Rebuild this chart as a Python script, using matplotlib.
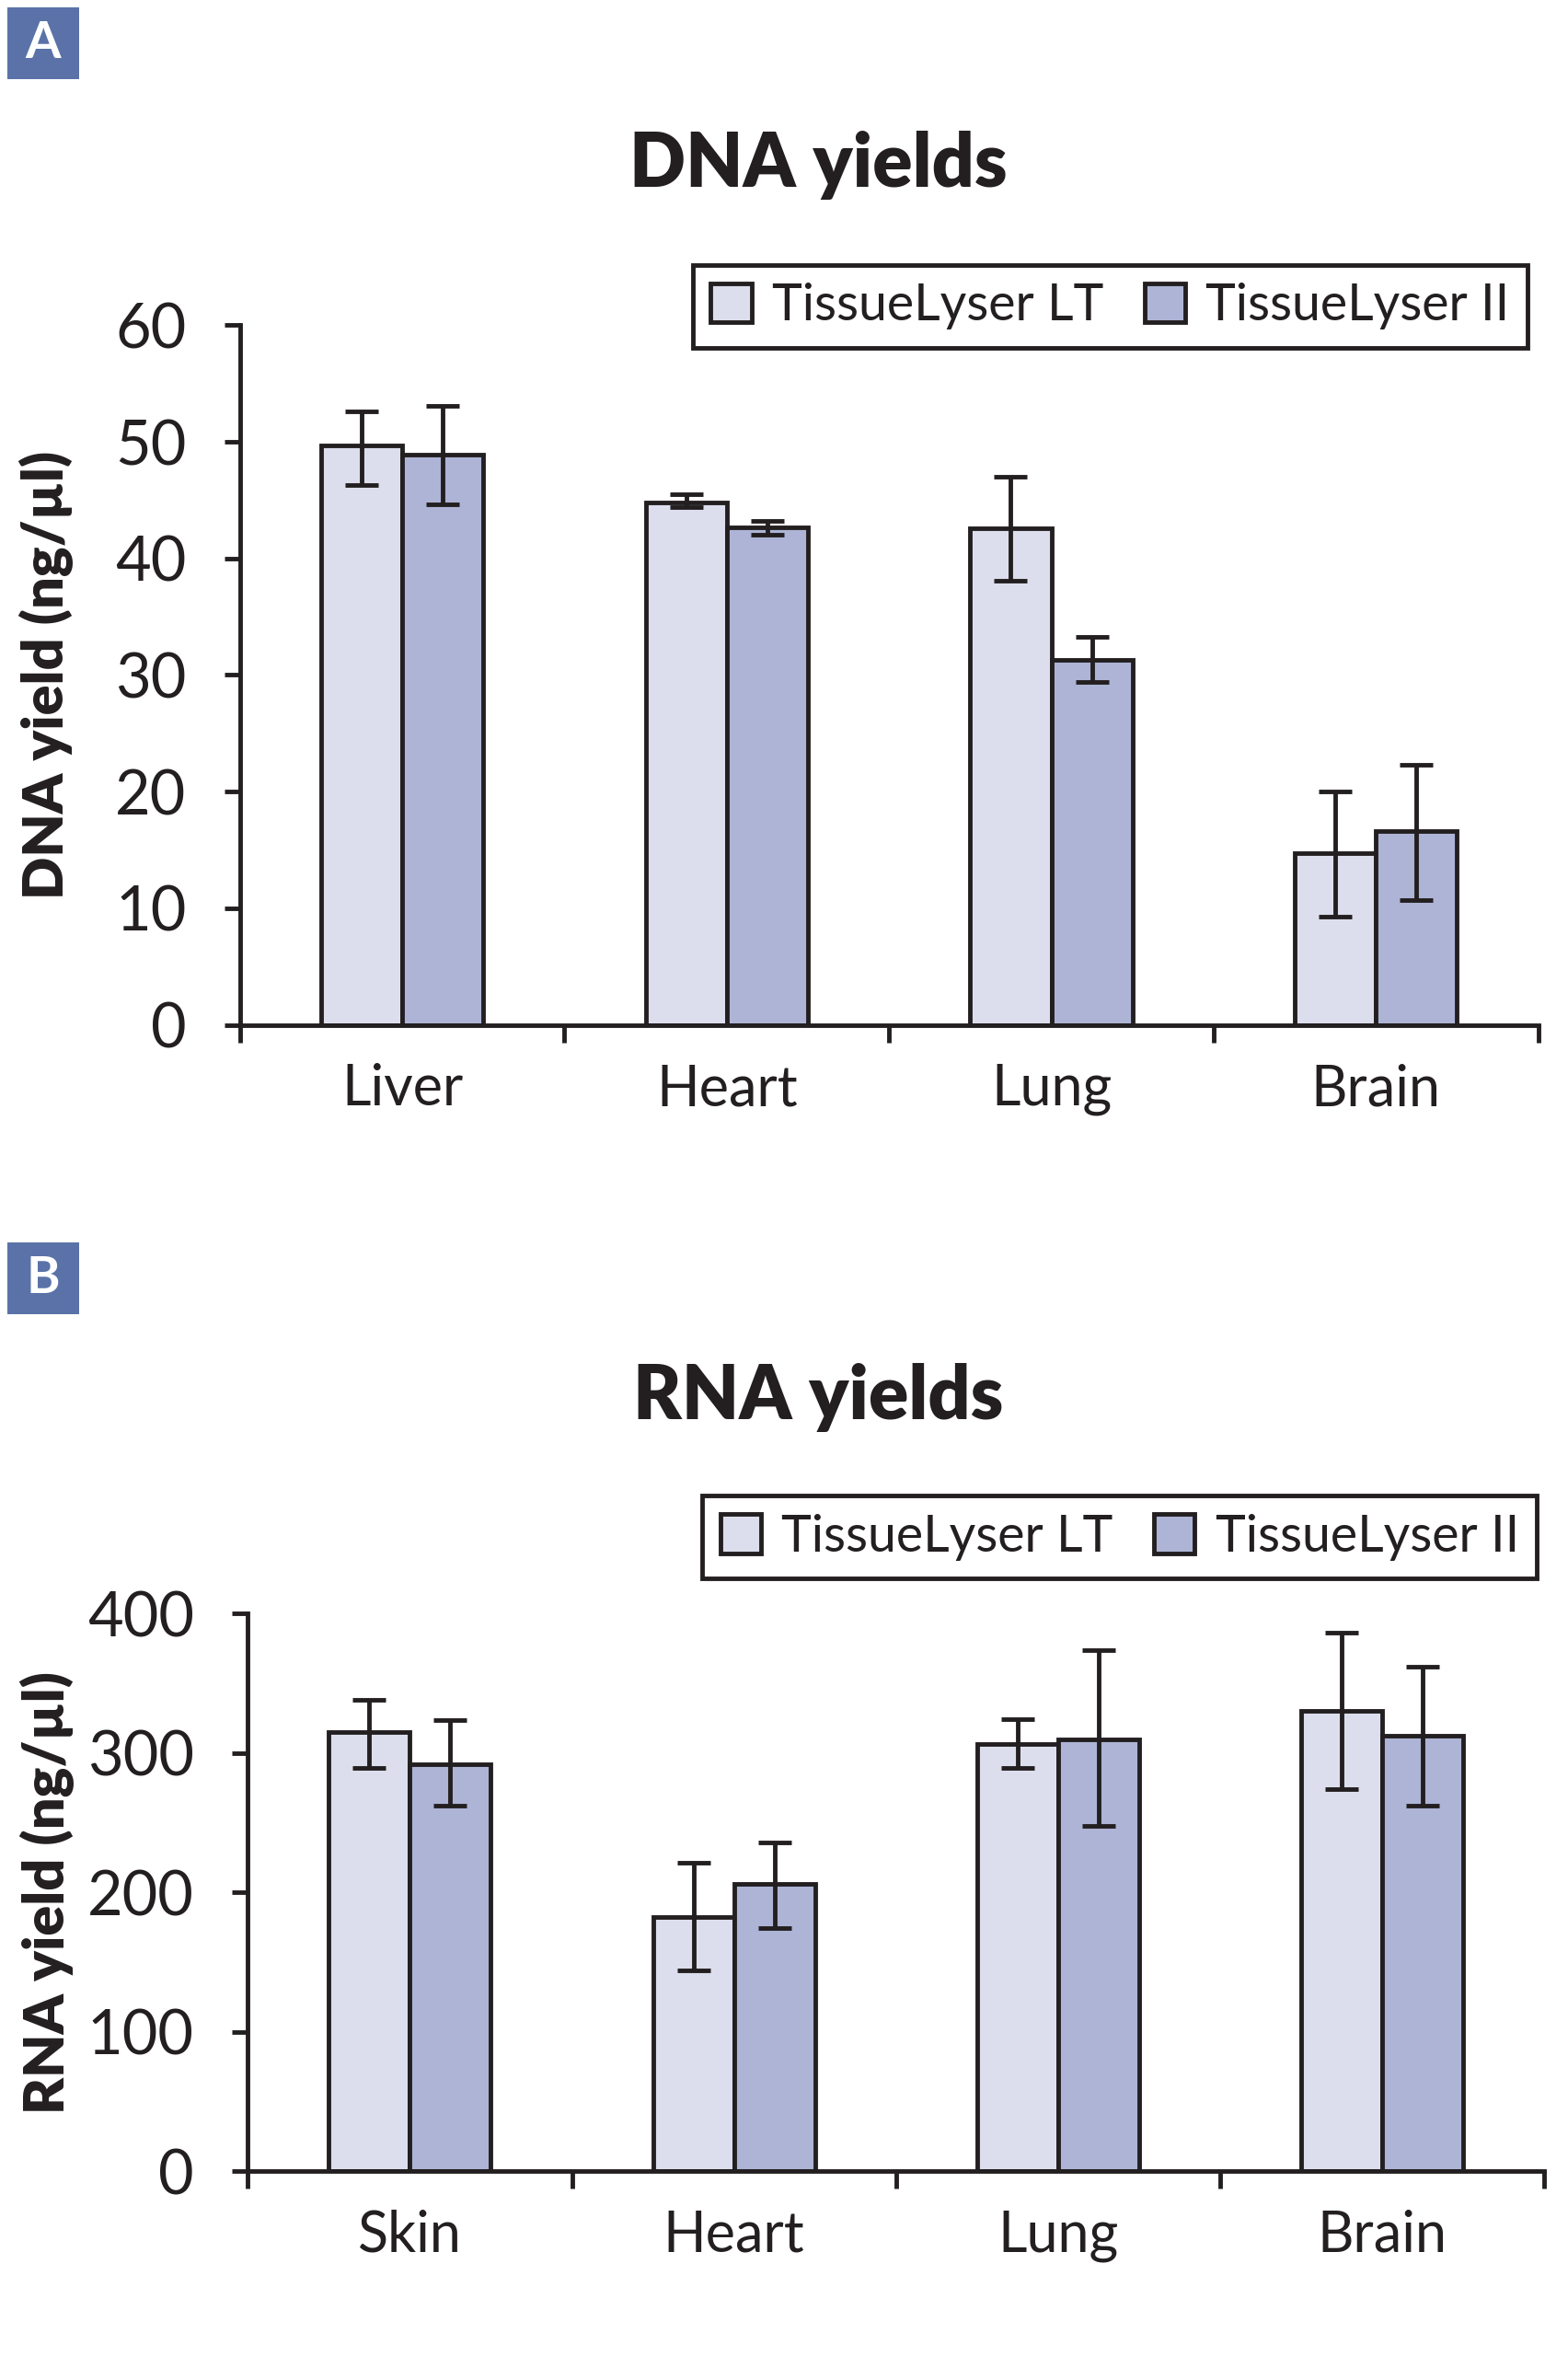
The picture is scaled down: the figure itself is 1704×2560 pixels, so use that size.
import numpy as np
import matplotlib
matplotlib.use("Agg")
import matplotlib.pyplot as plt
from matplotlib.patches import Patch, Rectangle

plt.rcParams["font.family"] = ["Lato", "DejaVu Sans"]

series = ["TissueLyser LT", "TissueLyser II"]
colors = ["#dcdeed", "#adb4d6"]

# panel A - DNA
dna_tissues = ["Liver", "Heart", "Lung", "Brain"]
dna_lt = [49.7, 44.8, 42.6, 14.7]
dna_lt_low = [46.3, 44.4, 38.1, 9.3]
dna_lt_high = [52.6, 45.5, 47.0, 20.0]
dna_ii = [48.9, 42.7, 31.3, 16.6]
dna_ii_low = [44.6, 42.0, 29.4, 10.7]
dna_ii_high = [53.1, 43.2, 33.3, 22.3]
dna_ticks = [0, 10, 20, 30, 40, 50, 60]

# panel B - RNA
rna_tissues = ["Skin", "Heart", "Lung", "Brain"]
rna_lt = [314.7, 182.3, 306.2, 330.3]
rna_lt_low = [289.0, 144.2, 289.0, 274.0]
rna_lt_high = [338.3, 221.4, 323.9, 386.0]
rna_ii = [291.7, 205.9, 309.9, 312.0]
rna_ii_low = [262.2, 174.3, 247.7, 262.2]
rna_ii_high = [323.3, 235.4, 373.7, 362.0]
rna_ticks = [0, 100, 200, 300, 400]

ink = "#231f20"


def draw_panel(ax, tissues, vals, lows, highs, ticks, ylabel, label_x):
    x = np.arange(len(tissues))
    w = 0.25
    for i, (v, lo, hi) in enumerate(zip(vals, lows, highs)):
        pos = x + (i - 0.5) * w
        v = np.array(v)
        ax.bar(pos, v, width=w, color=colors[i], edgecolor=ink,
               linewidth=3.5, zorder=2)
        yerr = [v - np.array(lo), np.array(hi) - v]
        ax.errorbar(pos, v, yerr=yerr, fmt="none", ecolor=ink,
                    elinewidth=3.5, capsize=13, capthick=3.5, zorder=3)
    ax.set_xlim(-0.5, len(tissues) - 0.5)
    ax.set_ylim(ticks[0], ticks[-1])
    ax.set_yticks(ticks)
    ax.set_xticks(x)
    ax.set_xticklabels(tissues)
    ax.set_xticks(np.arange(len(tissues) + 1) - 0.5, minor=True)
    ax.tick_params(axis="x", which="major", length=0, pad=30, labelsize=44,
                   colors=ink)
    ax.tick_params(axis="x", which="minor", length=14, width=3.5,
                   direction="out", color=ink)
    ax.tick_params(axis="y", length=12, width=3.5, pad=30, labelsize=48,
                   colors=ink)
    for s in ["top", "right"]:
        ax.spines[s].set_visible(False)
    for s in ["left", "bottom"]:
        ax.spines[s].set_linewidth(3.5)
        ax.spines[s].set_color(ink)
    ax.set_ylabel(ylabel, fontsize=44, fontweight="heavy", color=ink)
    ax.yaxis.set_label_coords(label_x, 0.5)
    handles = [Patch(facecolor=colors[i], edgecolor=ink, linewidth=3.5,
                     label=series[i]) for i in range(2)]
    return handles


def add_legend(fig, handles, center):
    leg = fig.legend(handles=handles, loc="center", bbox_to_anchor=center,
                     ncol=2, fontsize=40, frameon=True, fancybox=False,
                     framealpha=1, edgecolor=ink, handlelength=0.8,
                     handleheight=0.8, handletextpad=0.4, columnspacing=0.8,
                     borderpad=0.35)
    leg.get_frame().set_linewidth(3.5)
    for t in leg.get_texts():
        t.set_color(ink)


fig = plt.figure(figsize=(17.04, 25.6), dpi=100)

ax1 = fig.add_axes([0.153, 0.565, 0.828, 0.297])
h = draw_panel(ax1, dna_tissues, [dna_lt, dna_ii], [dna_lt_low, dna_ii_low],
               [dna_lt_high, dna_ii_high], dna_ticks, "DNA yield (ng/µl)",
               -0.128)
add_legend(fig, h, (0.708, 0.870))

ax2 = fig.add_axes([0.158, 0.0785, 0.827, 0.2367])
h = draw_panel(ax2, rna_tissues, [rna_lt, rna_ii], [rna_lt_low, rna_ii_low],
               [rna_lt_high, rna_ii_high], rna_ticks, "RNA yield (ng/µl)",
               -0.1335)
add_legend(fig, h, (0.714, 0.3475))

fig.text(0.522, 0.930, "DNA yields", ha="center", va="center",
         fontsize=58, fontweight="heavy", color=ink)
fig.text(0.522, 0.407, "RNA yields", ha="center", va="center",
         fontsize=58, fontweight="heavy", color=ink)

# panel letters in blue squares
W, H = 1704, 2560
for letter, top_px in [("A", 8), ("B", 1350)]:
    x0, size = 8, 78
    fig.patches.append(Rectangle((x0 / W, 1 - (top_px + size) / H),
                                 size / W, size / H, transform=fig.transFigure,
                                 facecolor="#5a72a8", edgecolor="none"))
    fig.text((x0 + size / 2) / W, 1 - (top_px + size / 2) / H, letter,
             ha="center", va="center", fontsize=40, fontweight="bold",
             color="white")

fig.savefig("out.png", dpi=100)
